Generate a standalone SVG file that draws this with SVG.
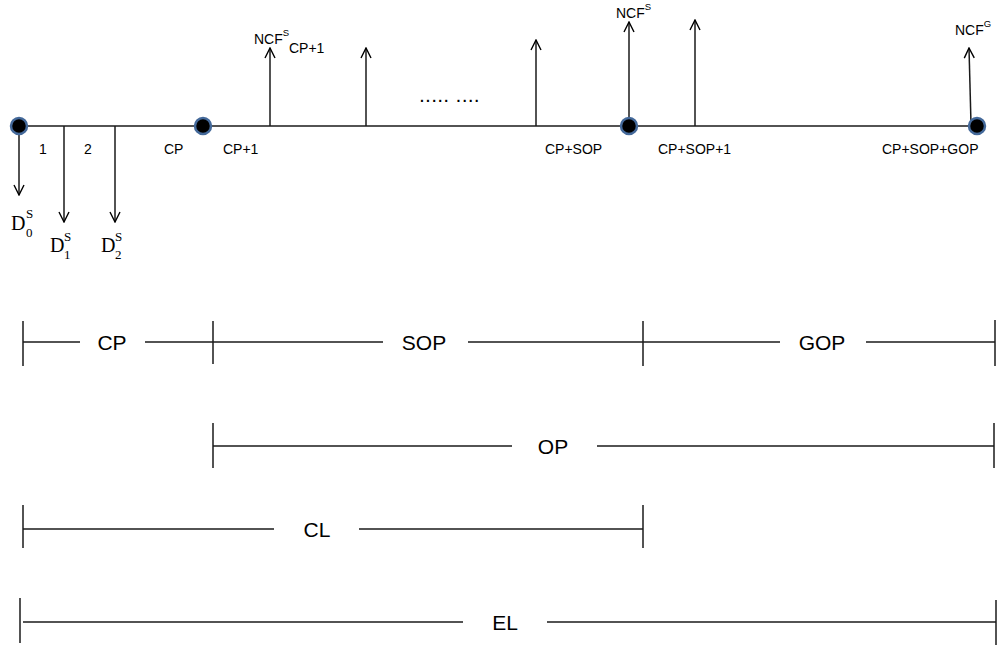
<svg xmlns="http://www.w3.org/2000/svg" width="1003" height="651" viewBox="0 0 1003 651">
  <defs>
    <marker id="arrow" viewBox="0 0 12 12" refX="11" refY="6" markerWidth="12" markerHeight="12" markerUnits="userSpaceOnUse" orient="auto">
      <path d="M1,1 L11,6 L1,11" fill="none" stroke="#000" stroke-width="1.4"/>
    </marker>
    <style>
      .ln { stroke: #1a1a1a; stroke-width: 1.5; fill: none; }
      .ar { stroke: #1a1a1a; stroke-width: 1.5; fill: none; marker-end: url(#arrow); }
      .dot { fill: #000; stroke: #44699a; stroke-width: 2.5; }
      .lbl { font-family: "Liberation Sans", Arial, sans-serif; font-size: 14px; fill: #000; }
      .sup { font-family: "Liberation Sans", Arial, sans-serif; font-size: 9.5px; fill: #000; }
      .big { font-family: "Liberation Sans", Arial, sans-serif; font-size: 21px; fill: #000; text-anchor: middle; }
      .mth { font-family: "Liberation Serif", "Times New Roman", serif; font-size: 20px; fill: #000; }
      .mths { font-family: "Liberation Serif", "Times New Roman", serif; font-size: 13px; fill: #000; }
    </style>
  </defs>

  <!-- time axis and cash-flow arrows -->
  <g id="connectors">
    <line class="ln" x1="19" y1="126" x2="977" y2="126"/>
    <!-- downward outlays -->
    <line class="ar" x1="19" y1="126" x2="19" y2="195"/>
    <line class="ar" x1="64" y1="126" x2="64" y2="222"/>
    <line class="ar" x1="115" y1="126" x2="115" y2="222"/>
    <!-- upward net cash flows -->
    <line class="ar" x1="270" y1="126" x2="270" y2="48"/>
    <line class="ar" x1="366" y1="126" x2="366" y2="48"/>
    <line class="ar" x1="536" y1="126" x2="536" y2="40"/>
    <line class="ar" x1="629" y1="126" x2="629" y2="22"/>
    <line class="ar" x1="695" y1="126" x2="695" y2="20"/>
    <line class="ar" x1="971" y1="124" x2="969" y2="48"/>
  </g>

  <!-- period markers on the axis -->
  <g id="node-start"><circle class="dot" cx="19" cy="126" r="8"/></g>
  <g id="node-cp"><circle class="dot" cx="203" cy="126" r="8"/></g>
  <g id="node-cp-sop"><circle class="dot" cx="629" cy="126" r="8"/></g>
  <g id="node-end"><circle class="dot" cx="977" cy="126" r="8"/></g>

  <!-- axis labels -->
  <g id="axis-labels">
    <text class="lbl" x="39" y="154">1</text>
    <text class="lbl" x="84" y="154">2</text>
    <text class="lbl" x="164" y="154">CP</text>
    <text class="lbl" x="223" y="154">CP+1</text>
    <text class="lbl" x="545" y="154">CP+SOP</text>
    <text class="lbl" x="658" y="154">CP+SOP+1</text>
    <text class="lbl" x="882" y="154">CP+SOP+GOP</text>
    <text class="lbl" x="420" y="102" font-weight="bold" letter-spacing="2.2">..... ....</text>
  </g>

  <!-- cash flow labels -->
  <g id="flow-labels">
    <text class="lbl" x="254" y="44">NCF<tspan class="sup" dy="-8">S</tspan></text>
    <text class="lbl" x="289" y="53">CP+1</text>
    <text class="lbl" x="616" y="18">NCF<tspan class="sup" dy="-8">S</tspan></text>
    <text class="lbl" x="955" y="35">NCF<tspan class="sup" dy="-8">G</tspan></text>

    <text class="mth" x="11" y="230">D</text>
    <text class="mths" x="26" y="218">S</text>
    <text class="mths" x="26" y="237">0</text>

    <text class="mth" x="50" y="252">D</text>
    <text class="mths" x="64" y="241">S</text>
    <text class="mths" x="64" y="259">1</text>

    <text class="mth" x="101" y="252">D</text>
    <text class="mths" x="115" y="241">S</text>
    <text class="mths" x="115" y="259">2</text>
  </g>

  <!-- span bars -->
  <g id="span-cp-sop-gop">
    <line class="ln" x1="23" y1="321" x2="23" y2="366"/>
    <line class="ln" x1="23" y1="342" x2="80" y2="342"/>
    <text class="big" x="112" y="350">CP</text>
    <line class="ln" x1="145" y1="342" x2="383" y2="342"/>
    <line class="ln" x1="213" y1="321" x2="213" y2="364"/>
    <text class="big" x="424" y="350">SOP</text>
    <line class="ln" x1="468" y1="342" x2="780" y2="342"/>
    <line class="ln" x1="643" y1="321" x2="643" y2="366"/>
    <text class="big" x="822" y="350">GOP</text>
    <line class="ln" x1="866" y1="342" x2="995" y2="342"/>
    <line class="ln" x1="995" y1="320" x2="995" y2="366"/>
  </g>

  <g id="span-op">
    <line class="ln" x1="213" y1="423" x2="213" y2="468"/>
    <line class="ln" x1="213" y1="446" x2="512" y2="446"/>
    <text class="big" x="553" y="454">OP</text>
    <line class="ln" x1="597" y1="446" x2="994" y2="446"/>
    <line class="ln" x1="994" y1="423" x2="994" y2="468"/>
  </g>

  <g id="span-cl">
    <line class="ln" x1="23" y1="505" x2="23" y2="548"/>
    <line class="ln" x1="23" y1="529" x2="274" y2="529"/>
    <text class="big" x="317" y="537">CL</text>
    <line class="ln" x1="359" y1="529" x2="643" y2="529"/>
    <line class="ln" x1="643" y1="505" x2="643" y2="548"/>
  </g>

  <g id="span-el">
    <line class="ln" x1="20" y1="598" x2="20" y2="643"/>
    <line class="ln" x1="23" y1="622" x2="463" y2="622"/>
    <text class="big" x="505" y="630">EL</text>
    <line class="ln" x1="547" y1="622" x2="996" y2="622"/>
    <line class="ln" x1="996" y1="600" x2="996" y2="645"/>
  </g>
</svg>
